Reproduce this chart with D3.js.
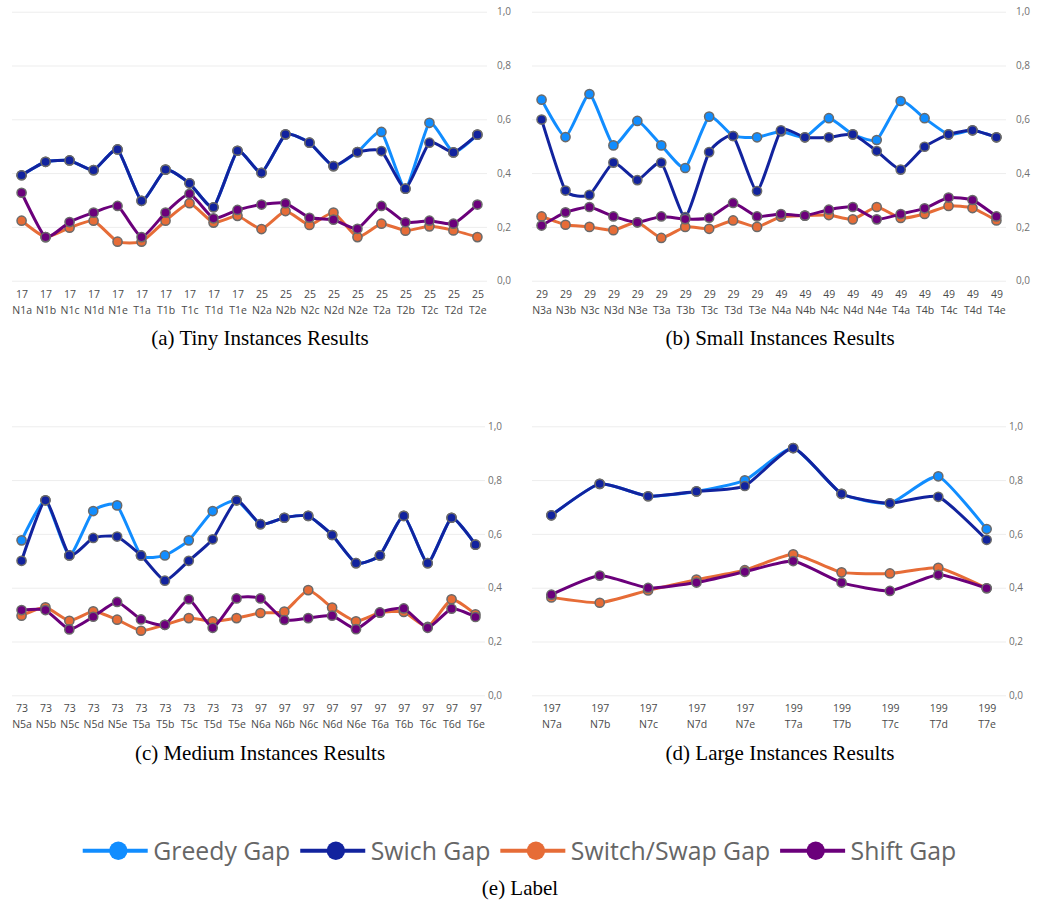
<!DOCTYPE html>
<html>
<head>
<meta charset="utf-8">
<script src="https://cdn.jsdelivr.net/npm/d3@7"></script>
<style>
  html, body { margin: 0; padding: 0; background: #fff; }
  svg { display: block; }
</style>
</head>
<body>
<svg id="chart" width="1038" height="901"></svg>
<script>
// ---- Data ----------------------------------------------------------------
const seriesNames = ["Greedy Gap", "Swich Gap", "Switch/Swap Gap", "Shift Gap"];
const seriesColors = ["#118DFF", "#12239E", "#E66C37", "#6B007B"];
const yTicks = [0, 0.2, 0.4, 0.6, 0.8, 1.0];

// (a) tiny instances
const tinyInstances = ["N1a","N1b","N1c","N1d","N1e","T1a","T1b","T1c","T1d","T1e",
                       "N2a","N2b","N2c","N2d","N2e","T2a","T2b","T2c","T2d","T2e"];
const tinySizes = [17,17,17,17,17,17,17,17,17,17,25,25,25,25,25,25,25,25,25,25];
const tinyGreedy = [0.392,0.442,0.447,0.411,0.488,0.297,0.413,0.362,0.273,0.483,
                    0.401,0.544,0.513,0.426,0.478,0.553,0.342,0.587,0.477,0.543];
const tinySwich  = [0.392,0.442,0.447,0.411,0.488,0.297,0.413,0.362,0.273,0.483,
                    0.401,0.544,0.513,0.426,0.478,0.482,0.342,0.513,0.477,0.543];
const tinySwap   = [0.223,0.162,0.197,0.223,0.145,0.145,0.223,0.288,0.216,0.241,
                    0.192,0.259,0.207,0.253,0.162,0.212,0.186,0.202,0.187,0.162];
const tinyShift  = [0.327,0.162,0.218,0.253,0.278,0.162,0.253,0.323,0.232,0.263,
                    0.283,0.288,0.234,0.227,0.193,0.278,0.217,0.223,0.212,0.283];

// (b) small instances
const smallInstances = ["N3a","N3b","N3c","N3d","N3e","T3a","T3b","T3c","T3d","T3e",
                        "N4a","N4b","N4c","N4d","N4e","T4a","T4b","T4c","T4d","T4e"];
const smallSizes = [29,29,29,29,29,29,29,29,29,29,49,49,49,49,49,49,49,49,49,49];
const smallGreedy = [0.673,0.534,0.694,0.503,0.594,0.503,0.419,0.610,0.538,0.533,
                     0.555,0.533,0.604,0.544,0.523,0.668,0.604,0.544,0.559,0.533];
const smallSwich  = [0.599,0.335,0.319,0.439,0.374,0.439,0.236,0.478,0.538,0.333,
                     0.559,0.533,0.533,0.544,0.482,0.413,0.498,0.544,0.559,0.533];
const smallSwap   = [0.239,0.208,0.200,0.188,0.217,0.159,0.200,0.193,0.224,0.200,
                     0.238,0.242,0.244,0.228,0.274,0.233,0.248,0.278,0.270,0.224];
const smallShift  = [0.205,0.254,0.274,0.239,0.217,0.239,0.229,0.234,0.289,0.239,
                     0.248,0.242,0.264,0.274,0.228,0.248,0.269,0.309,0.300,0.239];

// (c) medium instances
const mediumInstances = ["N5a","N5b","N5c","N5d","N5e","T5a","T5b","T5c","T5d","T5e",
                         "N6a","N6b","N6c","N6d","N6e","T6a","T6b","T6c","T6d","T6e"];
const mediumSizes = [73,73,73,73,73,73,73,73,73,73,97,97,97,97,97,97,97,97,97,97];
const mediumGreedy = [0.576,0.725,0.520,0.685,0.706,0.520,0.520,0.576,0.685,0.725,
                      0.636,0.660,0.667,0.596,0.491,0.520,0.667,0.491,0.660,0.560];
const mediumSwich  = [0.500,0.725,0.520,0.585,0.590,0.520,0.426,0.500,0.580,0.725,
                      0.636,0.660,0.667,0.596,0.491,0.520,0.667,0.491,0.660,0.560];
const mediumSwap   = [0.296,0.327,0.277,0.312,0.281,0.240,0.262,0.287,0.275,0.287,
                      0.306,0.311,0.391,0.326,0.275,0.307,0.310,0.254,0.357,0.301];
const mediumShift  = [0.317,0.317,0.245,0.292,0.347,0.282,0.262,0.357,0.251,0.360,
                      0.360,0.280,0.287,0.296,0.246,0.308,0.323,0.251,0.322,0.291];

// (d) large instances
const largeInstances = ["N7a","N7b","N7c","N7d","N7e","T7a","T7b","T7c","T7d","T7e"];
const largeSizes = [197,197,197,197,197,199,199,199,199,199];
const largeGreedy = [0.669,0.786,0.740,0.758,0.799,0.919,0.749,0.714,0.814,0.618];
const largeSwich  = [0.669,0.786,0.740,0.758,0.778,0.919,0.749,0.714,0.738,0.578];
const largeSwap   = [0.364,0.344,0.390,0.430,0.465,0.524,0.457,0.453,0.474,0.398];
const largeShift  = [0.374,0.445,0.399,0.419,0.459,0.499,0.419,0.388,0.448,0.398];

const captions = ["(a) Tiny Instances Results", "(b) Small Instances Results",
                  "(c) Medium Instances Results", "(d) Large Instances Results"];
const legendCaption = "(e) Label";

// ---- Layout ----------------------------------------------------------------
const panels = [
  { names: tinyInstances, sizes: tinySizes, series: [tinyGreedy, tinySwich, tinySwap, tinyShift],
    x0: 12, x1: 487, yBottom: 280.7, labelX: 497, captionX: 260, captionY: 345, caption: captions[0] },
  { names: smallInstances, sizes: smallSizes, series: [smallGreedy, smallSwich, smallSwap, smallShift],
    x0: 532, x1: 1006, yBottom: 280.7, labelX: 1016, captionX: 780, captionY: 345, caption: captions[1] },
  { names: mediumInstances, sizes: mediumSizes, series: [mediumGreedy, mediumSwich, mediumSwap, mediumShift],
    x0: 12, x1: 485, yBottom: 695.3, labelX: 488, captionX: 260, captionY: 760, caption: captions[2] },
  { names: largeInstances, sizes: largeSizes, series: [largeGreedy, largeSwich, largeSwap, largeShift],
    x0: 532, x1: 1006, yBottom: 695.3, labelX: 1009, captionX: 780, captionY: 760, caption: captions[3] }
];
const plotHeight = 269;

const svg = d3.select("#chart");
const commaLocale = d3.formatLocale({ decimal: ",", thousands: ".", grouping: [3], currency: ["", ""] });
const fmt = commaLocale.format(".1f");
const uiFont = "'Open Sans', 'Noto Sans', sans-serif";
const serifFont = "'Liberation Serif', 'Times New Roman', serif";

panels.forEach(p => {
  const g = svg.append("g");
  const x = d3.scalePoint().domain(p.names).range([p.x0, p.x1]).padding(0.4);
  const y = d3.scaleLinear().domain([0, 1]).range([p.yBottom, p.yBottom - plotHeight]);

  // y axis on the right with horizontal grid lines
  const yAxis = d3.axisRight(y).tickValues(yTicks).tickFormat(fmt)
    .tickSize(-(p.x1 - p.x0)).tickPadding(p.labelX - p.x1);
  const ya = g.append("g").attr("transform", `translate(${p.x1},0)`).call(yAxis);
  ya.select(".domain").remove();
  ya.selectAll(".tick line").attr("stroke", "#ededed").attr("stroke-width", 1);
  ya.selectAll(".tick text").attr("fill", "#707070").attr("font-size", 10)
    .attr("font-family", uiFont);

  // x axis: instance size above instance name
  const xAxis = d3.axisBottom(x).tickSize(0).tickPadding(0);
  const xa = g.append("g").attr("transform", `translate(0,${p.yBottom})`).call(xAxis);
  xa.select(".domain").remove();
  xa.selectAll(".tick text").each(function(d, i) {
    const t = d3.select(this);
    t.text(null).attr("y", 0).attr("dy", null)
      .attr("fill", "#4a4a4a").attr("font-size", 10.5).attr("font-family", uiFont);
    t.append("tspan").attr("x", 0).attr("y", 17).text(p.sizes[i]);
    t.append("tspan").attr("x", 0).attr("y", 33).text(d);
  });

  // series lines and markers
  const line = d3.line()
    .x((d, i) => x(p.names[i]))
    .y(d => y(d))
    .curve(d3.curveCardinal.tension(0.5));
  p.series.forEach((vals, si) => {
    const sg = g.append("g");
    sg.append("path").datum(vals)
      .attr("d", line)
      .attr("fill", "none")
      .attr("stroke", seriesColors[si])
      .attr("stroke-width", 3)
      .attr("stroke-linejoin", "round");
    sg.selectAll("circle").data(vals).join("circle")
      .attr("cx", (d, i) => x(p.names[i]))
      .attr("cy", d => y(d))
      .attr("r", 4.6)
      .attr("fill", seriesColors[si])
      .attr("stroke", "#6a6a6a")
      .attr("stroke-width", 1.5);
  });

  // caption
  svg.append("text")
    .attr("x", p.captionX).attr("y", p.captionY)
    .attr("text-anchor", "middle")
    .attr("font-family", serifFont)
    .attr("font-size", 21).attr("fill", "#000")
    .text(p.caption);
});

// ---- Legend ----------------------------------------------------------------
const legend = svg.append("g");
const legendY = 850.7;
let cursor = 0;
seriesNames.forEach((name, i) => {
  const ig = legend.append("g");
  ig.append("line").attr("x1", cursor).attr("x2", cursor + 65)
    .attr("y1", legendY).attr("y2", legendY)
    .attr("stroke", seriesColors[i]).attr("stroke-width", 4);
  ig.append("circle").attr("cx", cursor + 35.6).attr("cy", legendY).attr("r", 9.2)
    .attr("fill", seriesColors[i]);
  const t = ig.append("text").attr("x", cursor + 70.5).attr("y", legendY + 8.8)
    .attr("font-family", uiFont).attr("font-size", 24.8).attr("fill", "#666")
    .text(name);
  cursor += 70.5 + t.node().getComputedTextLength() + 10;
});
const legendWidth = cursor - 10;
legend.attr("transform", `translate(${519.5 - legendWidth / 2},0)`);

svg.append("text")
  .attr("x", 520).attr("y", 895)
  .attr("text-anchor", "middle")
  .attr("font-family", serifFont)
  .attr("font-size", 21).attr("fill", "#000")
  .text(legendCaption);
</script>
</body>
</html>
